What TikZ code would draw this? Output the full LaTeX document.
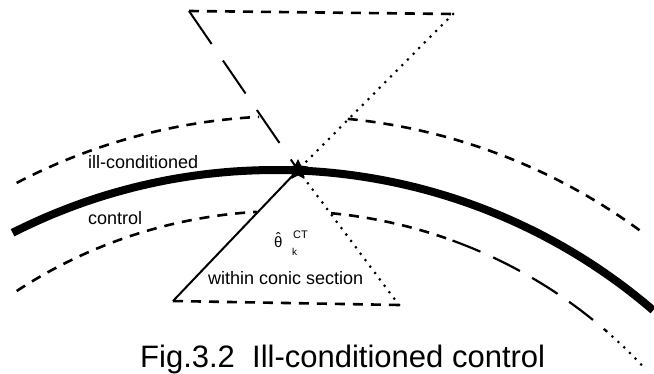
\documentclass[tikz,border=0pt]{standalone}
\usepackage{fontspec}
\setmainfont{Liberation Sans}
\begin{document}
\begin{tikzpicture}[x=1pt,y=-1pt,
  lbl/.style={anchor=base west, inner sep=0pt, font=\fontsize{18}{20}\selectfont},
  mainarc/.style={line width=8pt},
  sdash/.style={line width=2.6pt, dash pattern=on 10pt off 8pt},
  ldash/.style={line width=2pt, dash pattern=on 40pt off 20pt},
  mdash/.style={line width=2.2pt, dash pattern=on 30pt off 14pt},
  dotline/.style={line width=3pt, line cap=round, dash pattern=on 0pt off 8pt},
  solidedge/.style={line width=2pt},
]
\useasboundingbox (0,0) rectangle (654,374);

% upper dashed curve (hidden inside the upper cone)
\draw[sdash] plot[domain=-117.5:-93, samples=40] ({290+592*cos(\x)},{708+592*sin(\x)});
\draw[sdash] plot[domain=-84.4:-53.5, samples=40] ({290+592*cos(\x)},{708+592*sin(\x)});

% thick curve
\draw[mainarc] plot[domain=-116.9:-49.3, samples=90] ({275+580*cos(\x)},{750+580*sin(\x)});

% lower dashed curve (hidden inside the lower cone)
\draw[sdash] plot[domain=-123.2:-93.3, samples=40] ({285+490*cos(\x)},{701+490*sin(\x)});
\draw[sdash] plot[domain=-84.6:-70, samples=30] ({285+490*cos(\x)},{701+490*sin(\x)});
\draw[mdash] plot[domain=-70:-49, samples=30] ({285+490*cos(\x)},{701+490*sin(\x)});
\draw[dotline] plot[domain=-49:-42.5, samples=20] ({285+490*cos(\x)},{701+490*sin(\x)});

% star position and cone corners
\coordinate (s) at (298,170);
\coordinate (TL) at (189,11);
\coordinate (TR) at (453,14);
\coordinate (BL) at (173,301);
\coordinate (BR) at (399,305);

% upper cone
\draw[sdash] (TL) -- (TR);
\draw[ldash] (TL) -- (s);
\draw[dotline] (TR) -- (s);

% lower cone
\draw[solidedge] (s) -- (BL);
\draw[sdash] (BL) -- (BR);
\draw[dotline] (BR) -- (s);

% star (point up)
\fill[black] ([shift={(90:11pt)}]s) -- ([shift={(126:5.5pt)}]s) -- ([shift={(162:11pt)}]s)
  -- ([shift={(198:5.5pt)}]s) -- ([shift={(234:11pt)}]s) -- ([shift={(270:5.5pt)}]s)
  -- ([shift={(306:11pt)}]s) -- ([shift={(342:5.5pt)}]s) -- ([shift={(18:11pt)}]s)
  -- ([shift={(54:5.5pt)}]s) -- cycle;

% labels
\node[lbl] (ill) at (88,169) {ill-conditioned};
\node[lbl] (ctl) at (88,225) {control};
\node[lbl] (win) at (208,285) {within conic section};
\node[anchor=base west, inner sep=0pt, font=\fontsize{15}{16}\selectfont] (th) at (274,248)
  {\ooalign{θ\cr\hidewidth\raisebox{0.3em}{ˆ}\hidewidth\cr}};
\node[anchor=base west, inner sep=0pt, font=\fontsize{11}{12}\selectfont] (ct) at (293,239) {CT};
\node[anchor=base west, inner sep=0pt, font=\fontsize{10}{12}\selectfont] (kk) at (292,256) {k};

% caption
\node[anchor=base west, inner sep=0pt, font=\fontsize{31}{36}\selectfont] (cap) at (140,367) {Fig.3.2\ \ Ill-conditioned control};
\end{tikzpicture}
\end{document}
